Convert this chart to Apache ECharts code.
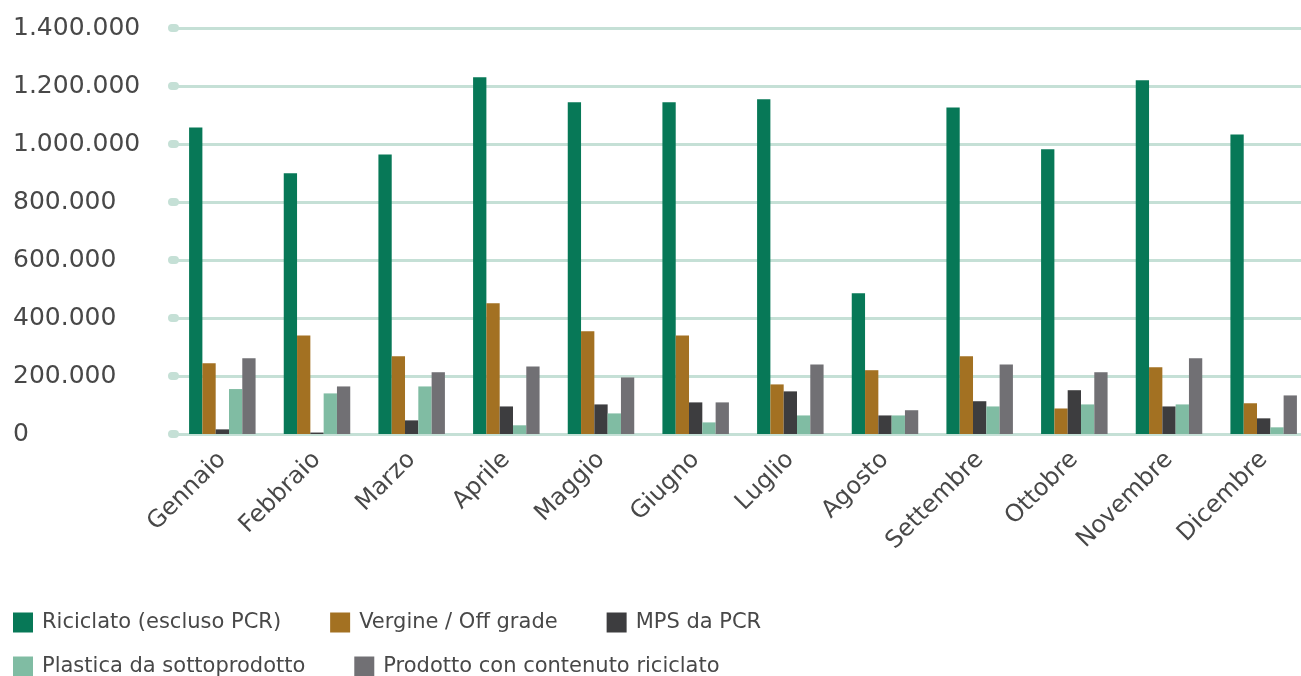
<!DOCTYPE html>
<html><head><meta charset="utf-8">
<script src="https://cdn.jsdelivr.net/npm/echarts@6/dist/echarts.min.js"></script>
<style>html,body{margin:0;padding:0;background:#fff;overflow:hidden}#c{width:1320px;height:676px}</style>
</head><body><div id="c"></div>
<script>
const months = ['Gennaio','Febbraio','Marzo','Aprile','Maggio','Giugno','Luglio','Agosto','Settembre','Ottobre','Novembre','Dicembre'];
const seriesNames = ['Riciclato (escluso PCR)','Vergine / Off grade','MPS da PCR','Plastica da sottoprodotto','Prodotto con contenuto riciclato'];
const riciclato = [1057000, 899000, 964000, 1230000, 1144000, 1144000, 1154000, 485000, 1126000, 982000, 1220000, 1033000];
const vergine   = [244000, 340000, 268000, 451000, 354000, 340000, 171000, 220000, 268000, 88000, 230000, 106000];
const mps       = [16000, 5000, 47000, 95000, 102000, 109000, 147000, 64000, 113000, 151000, 95000, 54000];
const plastica  = [155000, 140000, 164000, 30000, 71000, 40000, 64000, 64000, 95000, 102000, 102000, 23000];
const prodotto  = [261000, 164000, 213000, 233000, 195000, 109000, 240000, 82000, 240000, 213000, 261000, 133000];
const colors = ['#077857','#a37122','#3d3d3f','#80bca3','#717074'];
const allData = [riciclato, vergine, mps, plastica, prodotto];

const font = 'DejaVu Sans';
const txt = '#484848';
const chart = echarts.init(document.getElementById('c'));
chart.setOption({
  animation: false,
  color: colors,
  textStyle: {fontFamily: font},
  grid: {left: 175, width: 1136, top: 28, height: 406, containLabel: false},
  legend: [
    {left: 13, top: 612, padding: 0, itemWidth: 20, itemHeight: 20, itemGap: 49, icon: 'rect',
     data: seriesNames.slice(0,3),
     textStyle: {fontFamily: font, fontSize: 21, color: txt, padding: [0,0,0,4]}},
    {left: 13, top: 656, padding: 0, itemWidth: 20, itemHeight: 20, itemGap: 49, icon: 'rect',
     data: seriesNames.slice(3),
     textStyle: {fontFamily: font, fontSize: 21, color: txt, padding: [0,0,0,4]}}
  ],
  xAxis: {
    type: 'category', data: months,
    axisLine: {show: true, lineStyle: {color: '#c5e0d6', width: 3}},
    axisTick: {show: false},
    axisLabel: {rotate: 45, fontSize: 24, color: txt, fontFamily: font, margin: 22, interval: 0}
  },
  yAxis: {
    type: 'value', min: 0, max: 1400000, interval: 200000,
    axisLine: {show: false},
    axisTick: {show: true, length: 3, lineStyle: {color: '#c5e0d6', width: 8, cap: 'round'}},
    splitLine: {lineStyle: {color: '#c5e0d6', width: 3}},
    axisLabel: {
      fontSize: 25, color: txt, fontFamily: font, align: 'left', margin: 162,
      formatter: v => v === 0 ? '0' : String(v).replace(/\B(?=(\d{3})+(?!\d))/g, '.')
    }
  },
  series: seriesNames.map((n, i) => ({
    name: n, type: 'bar', data: allData[i], barWidth: 13.3, barGap: '0%'
  }))
});
</script></body></html>
